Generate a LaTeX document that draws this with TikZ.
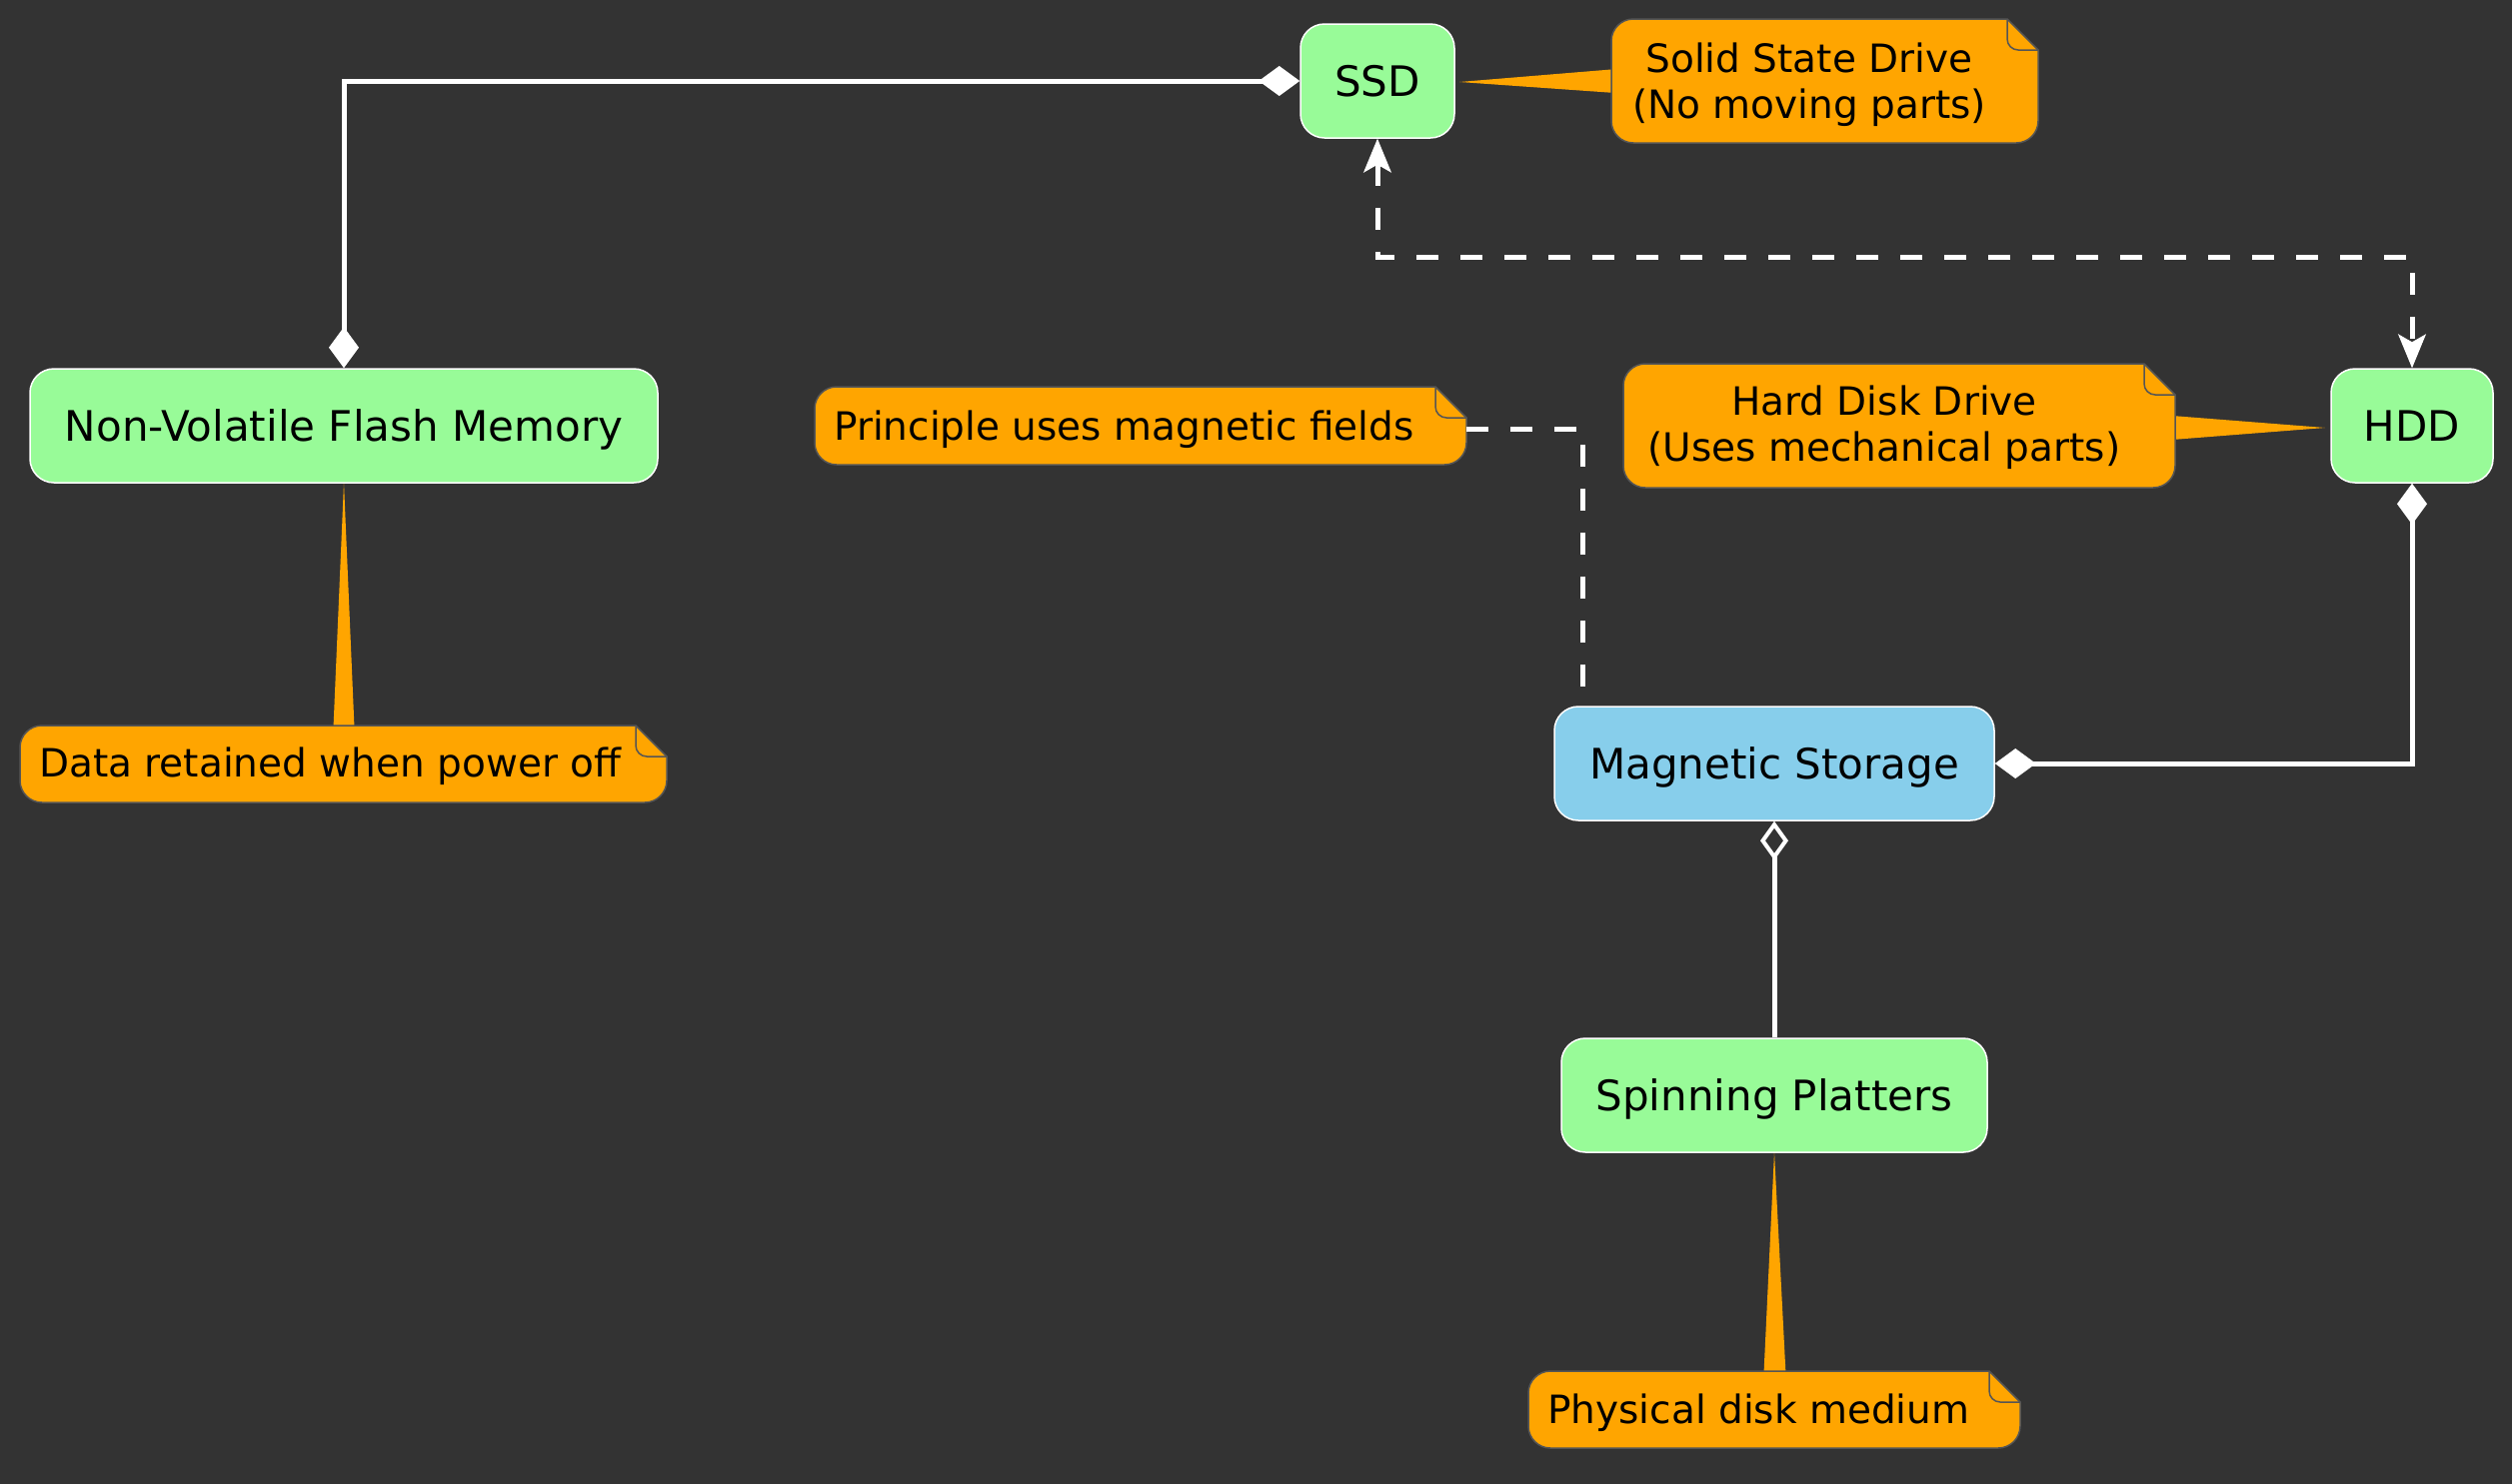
\documentclass[tikz,border=0pt]{standalone}
\usepackage{fontspec}
\setmainfont{DejaVu Sans}
\usetikzlibrary{arrows.meta}
\definecolor{bg}{HTML}{333333}
\definecolor{nodegreen}{HTML}{98FB98}
\definecolor{nodeblue}{HTML}{87CEEB}
\definecolor{noteorange}{HTML}{FFA500}
\definecolor{noteline}{HTML}{555555}
\newcommand{\notebody}[4]{%
  \path[notebodystyle] (#1+22,#2) -- (#3-31,#2) -- (#3,#2+31) -- (#3,#4-22)
    arc[start angle=0,end angle=90,radius=22] -- (#1+22,#4)
    arc[start angle=90,end angle=180,radius=22] -- (#1,#2+22)
    arc[start angle=180,end angle=270,radius=22] -- cycle;
  \draw[notefoldstyle] (#3-31,#2) -- (#3-31,#2+20)
    arc[start angle=180,end angle=90,radius=11] -- (#3,#2+31);
}
\tikzset{
  box/.style={draw=white, line width=1.5pt, rounded corners=24pt, minimum height=114pt,
    inner sep=0pt, text height=30.6pt, text depth=0pt,
    font=\fontsize{42}{48}\selectfont, text=black},
  greenbox/.style={box, fill=nodegreen},
  bluebox/.style={box, fill=nodeblue},
  notebodystyle/.style={fill=noteorange, draw=noteline, line width=1.5pt},
  notefoldstyle/.style={draw=noteline, line width=1.5pt},
  notetext/.style={font=\fontsize{39}{46}\selectfont, text=black, inner sep=0pt},
  wedge/.style={fill=noteorange},
  conn/.style={draw=white, line width=5pt},
  dconn/.style={conn, dash pattern=on 22pt off 22pt},
  dfill/.tip={Diamond[length=41pt,width=30pt,line width=1pt,fill=white]},
  dopen/.tip={Diamond[open,length=39pt,width=28pt,line width=4pt]},
  stl/.tip={Stealth[length=34pt,width=28pt,inset=8pt,line width=1pt,fill=white]},
}
\begin{document}
\begin{tikzpicture}[x=1pt,y=-1pt]
\useasboundingbox (0,0) rectangle (2513,1484);
\fill[bg] (-10,-10) rectangle (2523,1494);

% wedges
\fill[wedge] (1460,82) -- (1630,68) -- (1630,94) -- cycle;
\fill[wedge] (2326,428) -- (2160,415) -- (2160,441) -- cycle;
\fill[wedge] (344,483) -- (333,740) -- (355,740) -- cycle;
\fill[wedge] (1775,1153) -- (1764,1385) -- (1787,1385) -- cycle;

% note bodies
\notebody{1612}{19}{2039}{143}
\notebody{1624}{364}{2176}{488}
\notebody{20}{726}{667}{803}
\notebody{815}{387}{1467}{465}
\notebody{1529}{1372}{2021}{1449}

% note texts
\node[notetext, align=center] (nssd) at (1810,85) {Solid State Drive\\(No moving parts)};
\node[notetext, align=center] (nhdd) at (1885,428) {Hard Disk Drive\\(Uses mechanical parts)};
\node[notetext, anchor=base west] (ndata) at (39,777) {Data retained when power off};
\node[notetext, anchor=base west] (nprin) at (834,440) {Principle uses magnetic fields};
\node[notetext, anchor=base west] (nphys) at (1548,1424) {Physical disk medium};

% nodes
\node[greenbox, minimum width=154pt] (ssd) at (1378,81) {SSD};
\node[greenbox, minimum width=628pt] (nvfm) at (344,426) {Non-Volatile Flash Memory};
\node[greenbox, minimum width=162pt] (hdd) at (2413,426) {HDD};
\node[bluebox, minimum width=440pt] (ms) at (1775,764) {Magnetic Storage};
\node[greenbox, minimum width=426pt] (sp) at (1775,1096) {Spinning Platters};

% coordinates
\coordinate (j1) at (1378,257);
\coordinate (j2) at (2413,257);
\coordinate (pn) at (1467,429);
\coordinate (msk) at (1583,707);

% connectors
\draw[conn, dfill-dfill] (ssd.west) -| (nvfm.north);
\draw[dconn, stl-stl] (ssd.south) -- (j1) -- (j2) -- (hdd.north);
\draw[conn, dfill-dfill] (hdd.south) |- (ms.east);
\draw[conn, dopen-] (ms.south) -- (sp.north);
\draw[dconn] (pn) -| (msk);
\end{tikzpicture}
\end{document}
